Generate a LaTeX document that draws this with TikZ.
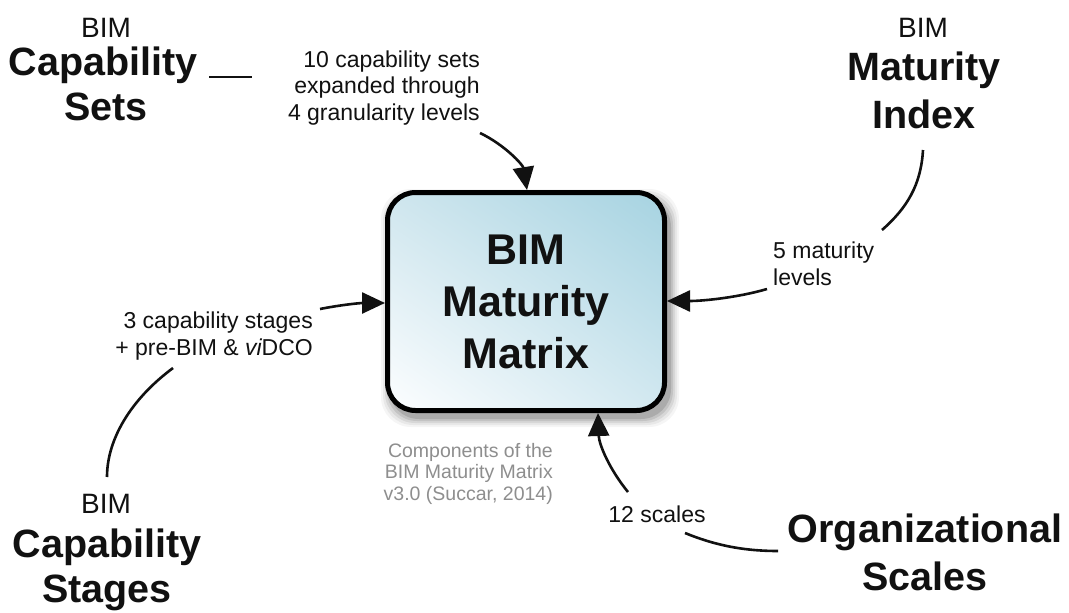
\documentclass[tikz,border=0pt]{standalone}
\usepackage{fontspec}
\setmainfont{Liberation Sans}
\usetikzlibrary{arrows.meta,shadings}
\definecolor{txt}{HTML}{111111}
\definecolor{notegray}{HTML}{8E8E8E}
\definecolor{boxUR}{HTML}{A6D3E1}
\definecolor{boxUL}{HTML}{CFE6EE}
\definecolor{boxLR}{HTML}{D2E8F0}
\definecolor{boxLL}{HTML}{FDFEFF}
\begin{document}
\begin{tikzpicture}[x=1pt,y=-1pt,
  big/.style={font=\fontsize{39.5}{45}\selectfont\bfseries, inner sep=0pt, anchor=base, text=txt},
  small/.style={font=\fontsize{28}{32}\selectfont, inner sep=0pt, anchor=base, text=txt},
  lbl/.style={font=\fontsize{23}{27}\selectfont, inner sep=0pt, text=txt},
  note/.style={font=\fontsize{19.5}{21.5}\selectfont, inner sep=0pt, anchor=base east, text=notegray},
  link/.style={line width=2.6pt, draw=txt},
  arr/.style={link, -{Triangle[length=23pt,width=21pt]}},
  mainbox/.style={draw=black, line width=5pt, rounded corners=28pt,
    minimum width=277pt, minimum height=218pt, inner sep=0pt,
    upper right=boxUR, upper left=boxUL, lower right=boxLR, lower left=boxLL,
    font=\fontsize{43}{52}\selectfont\bfseries, align=center, text=txt}]
\useasboundingbox (0,0) rectangle (1069,613);
\fill[white] (0,0) rectangle (1069,613);

% shadow of the main box
\foreach \s/\o in {9/0.04,7/0.05,5/0.07,3/0.09,1/0.12}
  \fill[black,opacity=\o,rounded corners=30pt] ({390-\s},{198-\s}) rectangle ({670+\s},{418+\s});

% main box
\node[mainbox] (mm) at (526,301.5) {BIM\\Maturity\\Matrix};

% top-left: BIM Capability Sets
\node[small] (csB) at (106,37) {BIM};
\node[big] (csC) at (103,75) {Capability};
\node[big] (csS) at (106,120) {Sets};
\coordinate (csd1) at (209,77);
\coordinate (csd2) at (252,77);
\draw[link] (csd1) -- (csd2);

\node[lbl, anchor=base east] (cs1) at (480,67) {10 capability sets};
\node[lbl, anchor=base east] (cs2) at (480,93) {expanded through};
\node[lbl, anchor=base east] (cs3) at (480,120) {4 granularity levels};
\coordinate (csa) at (480,133);
\draw[arr] (csa) .. controls (505,145) and (523,165) .. (mm.north -| 527,0);

% top-right: BIM Maturity Index
\node[small] (miB) at (923,37) {BIM};
\node[big] (miM) at (924,80) {Maturity};
\node[big] (miI) at (924,128) {Index};
\coordinate (mic1) at (923,150);
\coordinate (mic2) at (882,230);
\draw[link] (mic1) .. controls (921,185) and (907,208) .. (mic2);

\node[lbl, anchor=base west] (mi1) at (773,258) {5 maturity};
\node[lbl, anchor=base west] (mi2) at (773,285) {levels};
\coordinate (mia) at (767,289);
\draw[arr] (mia) .. controls (740,297) and (705,301) .. (mm.east |- 0,301);

% left: BIM Capability Stages
\node[lbl, anchor=base east] (st1) at (313,328) {3 capability stages};
\node[lbl, anchor=base east] (st2) at (313,355) {+ pre-BIM \& {\itshape vi}DCO};
\coordinate (sta) at (320,309);
\draw[arr] (sta) .. controls (340,305) and (360,303) .. (mm.west |- 0,303);
\coordinate (stc1) at (173,368);
\coordinate (stc2) at (107,477);
\draw[link] (stc1) .. controls (130,400) and (107,440) .. (stc2);

\node[small] (sgB) at (106,513) {BIM};
\node[big] (sgC) at (107,557) {Capability};
\node[big] (sgS) at (107,602) {Stages};

% caption
\node[note] (n1) at (553,457) {Components of the};
\node[note] (n2) at (553,478) {BIM Maturity Matrix};
\node[note] (n3) at (553,500) {v3.0 (Succar, 2014)};

% bottom: Organizational Scales
\coordinate (osa) at (628,492);
\draw[arr] (osa) .. controls (610,470) and (599,445) .. (mm.south -| 598,0);
\node[lbl, anchor=base] (os1) at (657,522) {12 scales};
\coordinate (osc1) at (685,533);
\coordinate (osc2) at (778,551);
\draw[link] (osc1) .. controls (712,544) and (740,551) .. (osc2);
\node[big] (osO) at (925,542) {Organizational};
\node[big] (osS) at (925,590) {Scales};
\end{tikzpicture}
\end{document}
